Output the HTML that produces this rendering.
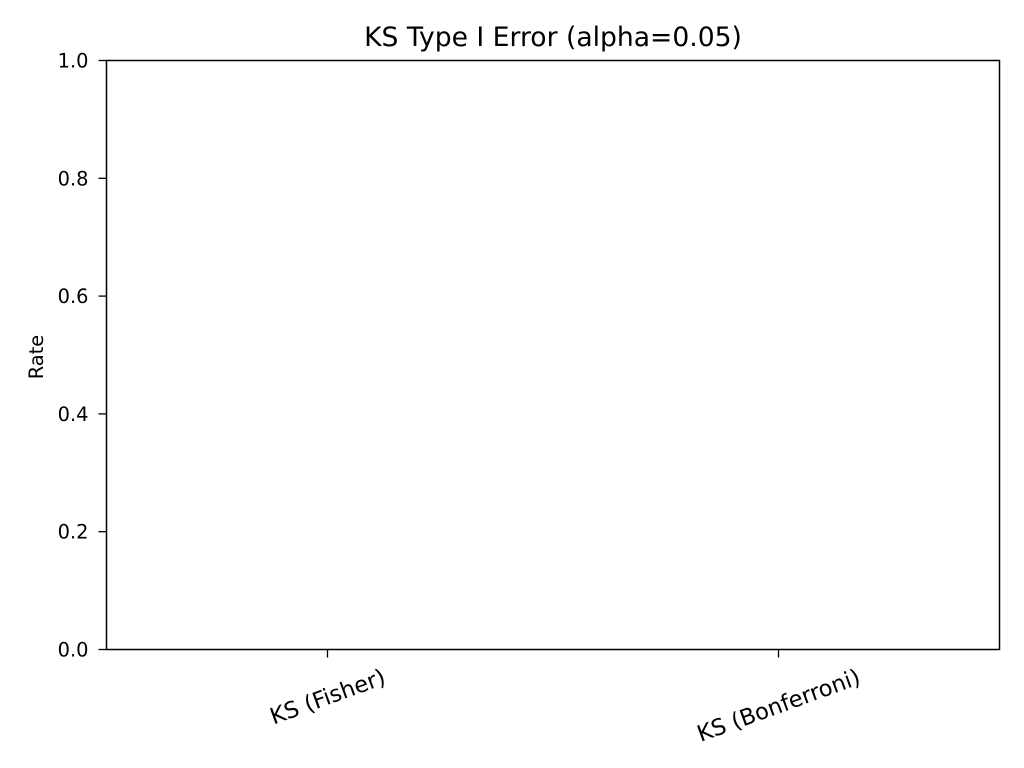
<!DOCTYPE html>
<html><head><meta charset="utf-8"><style>
body{margin:0;background:#fff}
svg{display:block;font-family:"DejaVu Sans","Liberation Sans",sans-serif}
</style></head><body>
<svg id="chart" width="1024" height="768">
<text x="553" y="46" font-size="26.6" text-anchor="middle">KS Type I Error (alpha=0.05)</text>
<text transform="translate(43,357) rotate(-90)" font-size="19.4" text-anchor="middle">Rate</text>
<g id="marks"></g>
<rect x="106.5" y="60.5" width="893" height="589" fill="none" stroke="#000" stroke-width="1.5"/>
</svg>
<script>
const categories = ["KS (Fisher)", "KS (Bonferroni)"];
const rates = [0, 0];
const yTicks = [0, 0.2, 0.4, 0.6, 0.8, 1.0];
const yTickLabels = ["0.0", "0.2", "0.4", "0.6", "0.8", "1.0"];

const L = 106.5, R = 999.5, T = 60.5, B = 649.5;
const xMin = -0.49, xMax = categories.length - 1 + 0.49;
const xs = v => L + (v - xMin) / (xMax - xMin) * (R - L);
const ys = v => B - v * (B - T);
const ns = "http://www.w3.org/2000/svg";
const g = document.getElementById("marks");
function mk(tag, attrs) { const e = document.createElementNS(ns, tag); for (const k in attrs) e.setAttribute(k, attrs[k]); g.appendChild(e); return e; }

rates.forEach((v, i) => {
  const r = mk("rect", {x: xs(i - 0.4), y: ys(v), width: xs(i + 0.4) - xs(i - 0.4), height: ys(0) - ys(v), fill: "#1f77b4"});
  
  
});
yTicks.forEach((v, i) => {
  const t = mk("line", {x1: L - 8, x2: L, y1: ys(v), y2: ys(v), stroke: "#000", "stroke-width": 1.3});
  
  
  const tx = mk("text", {x: L - 18, y: ys(v) + 7, "font-size": 19.4, "text-anchor": "end"});
  tx.textContent = yTickLabels[i];
  
  
});
const a = 20 * Math.PI / 180;
categories.forEach((c, i) => {
  const x = xs(i);
  const t = mk("line", {x1: x, x2: x, y1: B, y2: B + 8, stroke: "#000", "stroke-width": 1.3});
  
  
  const tx = mk("text", {x: 0, y: 8, "font-size": 22.6, "text-anchor": "middle"});
  tx.textContent = c;
  
  
  const w = tx.getComputedTextLength();
  const h = 24;
  const bh = w * Math.sin(a) + h * Math.cos(a);
  tx.setAttribute("transform", `translate(${x},${B + 15 + bh / 2}) rotate(-20)`);
});
</script>
</body></html>
